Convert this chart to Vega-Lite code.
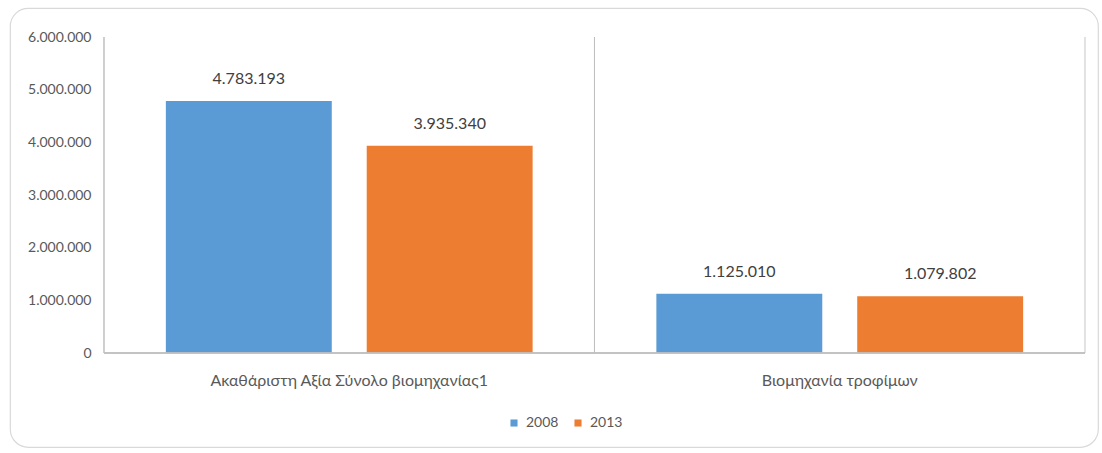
{
  "$schema": "https://vega.github.io/schema/vega-lite/v6.json",
  "autosize": {"type": "none"},
  "padding": {"left": 10, "top": 8, "right": 4, "bottom": 6},
  "width": 1088,
  "height": 439,
  "background": "white",
  "config": {
    "locale": {"number": {"decimal": ",", "thousands": ".", "grouping": [3], "currency": ["€", ""]}},
    "font": "Lato",
    "view": {"stroke": "#D9D9D9", "strokeWidth": 1.2, "cornerRadius": 18},
    "axis": {"labelFont": "Lato", "labelColor": "#595959", "domain": false, "ticks": false, "grid": false, "title": null},
    "legend": {"labelFont": "Lato", "labelColor": "#595959"}
  },
  "data": {
    "values": [
      {"category": "Ακαθάριστη Αξία Σύνολο βιομηχανίας1", "year": "2008", "value": 4783193},
      {"category": "Ακαθάριστη Αξία Σύνολο βιομηχανίας1", "year": "2013", "value": 3935340},
      {"category": "Βιομηχανία τροφίμων", "year": "2008", "value": 1125010},
      {"category": "Βιομηχανία τροφίμων", "year": "2013", "value": 1079802}
    ]
  },
  "encoding": {
    "x": {
      "field": "category",
      "type": "nominal",
      "sort": null,
      "scale": {"paddingInner": 0, "paddingOuter": 0.10906, "align": 0.8785},
      "axis": {"labelAngle": 0, "labelFontSize": 16, "labelPadding": 19, "labelLimit": 600, "offset": -94}
    },
    "y": {
      "field": "value",
      "type": "quantitative",
      "scale": {"domain": [-1784810, 6550633], "nice": false, "zero": false},
      "axis": {"values": [0, 1000000, 2000000, 3000000, 4000000, 5000000, 6000000], "labelExpr": "format(datum.value, ',')", "labelFontSize": 14, "labelPadding": 13, "offset": -94, "labelOverlap": false}
    }
  },
  "layer": [
    {
      "mark": {"type": "rule", "color": "#D9D9D9", "strokeWidth": 1},
      "encoding": {
        "x": {"field": "category", "type": "nominal", "sort": null, "bandPosition": 1},
        "y": {"datum": 0},
        "y2": {"datum": 6000000}
      }
    },
    {
      "mark": {"type": "rule", "color": "#BFBFBF", "strokeWidth": 1},
      "encoding": {
        "x": {"field": "category", "type": "nominal", "sort": null, "bandPosition": 0},
        "y": {"datum": 0},
        "y2": {"datum": 6000000}
      }
    },
    {
      "mark": {"type": "bar"},
      "encoding": {
        "xOffset": {"field": "year", "type": "nominal", "scale": {"paddingInner": 0.174, "paddingOuter": 0.308}},
        "color": {
          "field": "year",
          "type": "nominal",
          "scale": {"domain": ["2008", "2013"], "range": ["#5B9BD5", "#ED7D31"]},
          "legend": {"orient": "none", "legendX": 497, "legendY": 408, "direction": "horizontal", "title": null, "symbolType": "square", "symbolSize": 50, "labelFontSize": 14, "labelOffset": 5, "columnPadding": 12, "padding": 0, "symbolStrokeWidth": 0}
        }
      }
    },
    {
      "mark": {"type": "rect", "fill": null, "stroke": "#BFBFBF", "strokeWidth": 1},
      "encoding": {
        "x": {"field": "category", "type": "nominal", "sort": null},
        "y": {"datum": 0},
        "y2": {"datum": 0}
      }
    },
    {
      "mark": {"type": "text", "dy": -22, "fontSize": 16, "color": "#404040", "baseline": "middle"},
      "encoding": {
        "xOffset": {"field": "year", "type": "nominal", "scale": {"paddingInner": 0.174, "paddingOuter": 0.308}},
        "text": {"field": "value", "type": "quantitative", "format": ","}
      }
    }
  ]
}
